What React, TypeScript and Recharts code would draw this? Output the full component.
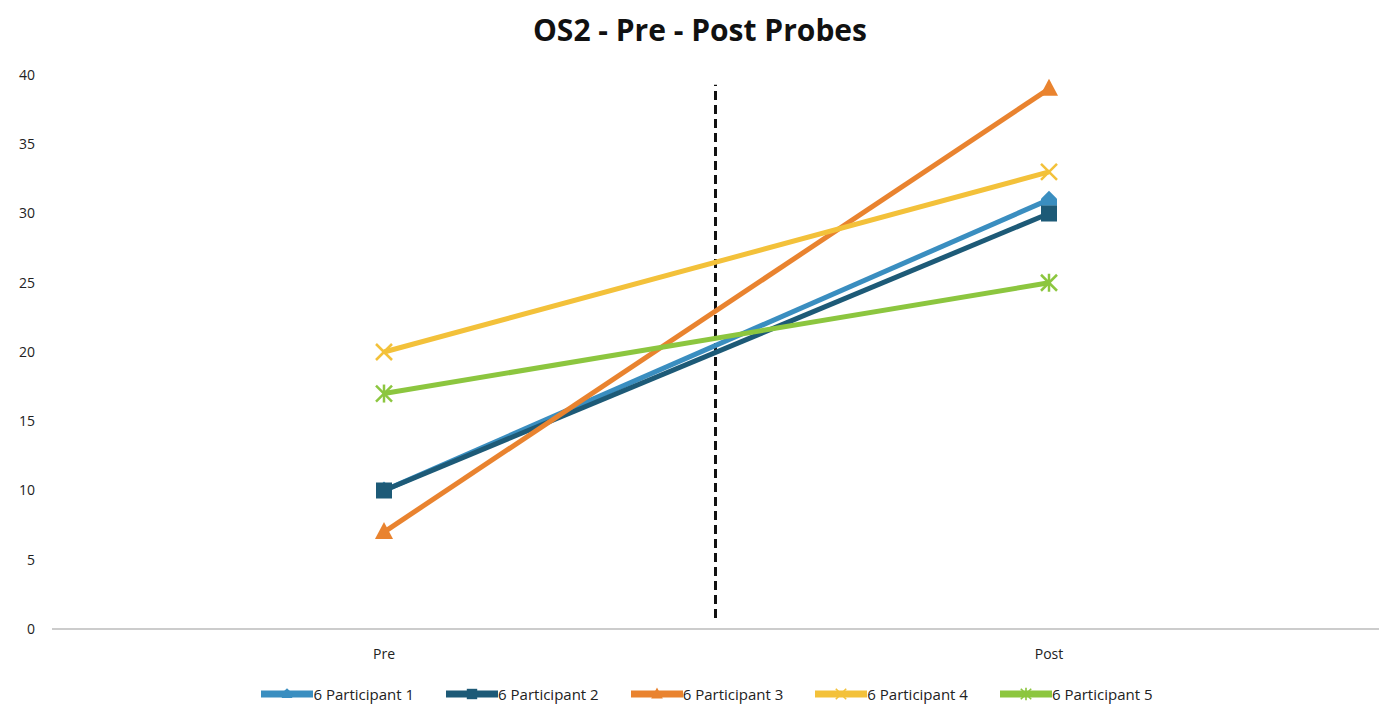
import { LineChart, Line, XAxis, YAxis, ReferenceLine } from "recharts"

document.body.style.margin = "0"

// 데이터
const categories = ["Pre", "Post"]
const participant1 = [10, 31]
const participant2 = [10, 30]
const participant3 = [7, 39]
const participant4 = [20, 33]
const participant5 = [17, 25]
const yTicks = [0, 5, 10, 15, 20, 25, 30, 35, 40]

const seriesList = [
    { key: "p1", name: "6 Participant 1", color: "#3a8ec0", shape: "diamond" },
    { key: "p2", name: "6 Participant 2", color: "#1d5a77", shape: "square" },
    { key: "p3", name: "6 Participant 3", color: "#e9832f", shape: "triangle" },
    { key: "p4", name: "6 Participant 4", color: "#f3c13a", shape: "x" },
    { key: "p5", name: "6 Participant 5", color: "#8cc63f", shape: "star" },
]

const chartData = categories.map((name, i) => ({
    name,
    p1: participant1[i],
    p2: participant2[i],
    p3: participant3[i],
    p4: participant4[i],
    p5: participant5[i],
}))

function Marker({ cx, cy, shape, color, s = 1 }: { cx: number; cy: number; shape: string; color: string; s?: number }) {
    if (cx == null || cy == null) return null
    if (shape === "square") {
        return <rect x={cx - 8 * s} y={cy - 8 * s} width={16 * s} height={16 * s} fill={color} />
    }
    if (shape === "diamond") {
        return (
            <polygon
                points={`${cx},${cy - 9 * s} ${cx + 8 * s},${cy - 1 * s} ${cx + 8 * s},${cy + 6 * s} ${cx - 8 * s},${cy + 6 * s} ${cx - 8 * s},${cy - 1 * s}`}
                fill={color}
            />
        )
    }
    if (shape === "triangle") {
        return <polygon points={`${cx},${cy - 10 * s} ${cx + 9 * s},${cy + 7 * s} ${cx - 9 * s},${cy + 7 * s}`} fill={color} />
    }
    const d = 8 * s
    return (
        <g stroke={color} strokeWidth={2.5 * s}>
            <line x1={cx - d} y1={cy - d} x2={cx + d} y2={cy + d} />
            <line x1={cx - d} y1={cy + d} x2={cx + d} y2={cy - d} />
            {shape === "star" && <line x1={cx} y1={cy - d - 1} x2={cx} y2={cy + d + 1} />}
        </g>
    )
}

function LegendContent() {
    return (
        <div
            style={{
                position: "absolute",
                top: 684,
                left: 0,
                width: 1414,
                display: "flex",
                justifyContent: "center",
                gap: 32,
                fontFamily: "'Open Sans', sans-serif",
                fontSize: 15,
                color: "#222",
            }}
        >
            {seriesList.map((s) => (
                <div key={s.key} style={{ display: "flex", alignItems: "center" }}>
                    <svg width={52} height={18}>
                        <line x1={0} y1={9} x2={52} y2={9} stroke={s.color} strokeWidth={7} />
                        <Marker cx={26} cy={9} shape={s.shape} color={s.color} s={0.65} />
                    </svg>
                    <span>{s.name}</span>
                </div>
            ))}
        </div>
    )
}

export default function App() {
    return (
        <div style={{ position: "relative", width: 1379, height: 708, background: "#fff" }}>
            <div
                style={{
                    position: "absolute",
                    top: 9,
                    left: 0,
                    width: 1400,
                    textAlign: "center",
                    fontFamily: "'Open Sans', sans-serif",
                    fontWeight: 700,
                    fontSize: 30,
                    color: "#111",
                }}
            >
                OS2 - Pre - Post Probes
            </div>
            <LineChart width={1379} height={708} data={chartData} margin={{ top: 75, right: 0, bottom: 49, left: 0 }}>
                <XAxis
                    dataKey="name"
                    height={30}
                    padding={{ left: 332, right: 330 }}
                    tickLine={false}
                    axisLine={{ stroke: "#999", strokeWidth: 1 }}
                    tick={{ fill: "#222", fontSize: 14, fontFamily: "'Open Sans', sans-serif" }}
                    tickMargin={14}
                />
                <XAxis xAxisId="mid" type="number" domain={[0, 1]} hide allowDataOverflow />
                <YAxis
                    domain={[0, 40]}
                    ticks={yTicks}
                    width={52}
                    axisLine={false}
                    tickLine={false}
                    tickMargin={11}
                    tick={{ fill: "#222", fontSize: 14, fontFamily: "'Open Sans', sans-serif" }}
                />
                <ReferenceLine
                    xAxisId="mid"
                    segment={[
                        { x: 0.5, y: 0.8 },
                        { x: 0.5, y: 39.3 },
                    ]}
                    stroke="#111"
                    strokeWidth={3}
                    strokeDasharray="9 5"
                />
                {seriesList.map((s) => (
                    <Line
                        key={s.key}
                        type="linear"
                        dataKey={s.key}
                        name={s.name}
                        stroke={s.color}
                        strokeWidth={5}
                        isAnimationActive={false}
                        dot={(p: any) => <Marker key={`${s.key}-${p.index}`} cx={p.cx} cy={p.cy} shape={s.shape} color={s.color} />}
                        activeDot={false}
                    />
                ))}
            </LineChart>
            <LegendContent />
        </div>
    )
}
